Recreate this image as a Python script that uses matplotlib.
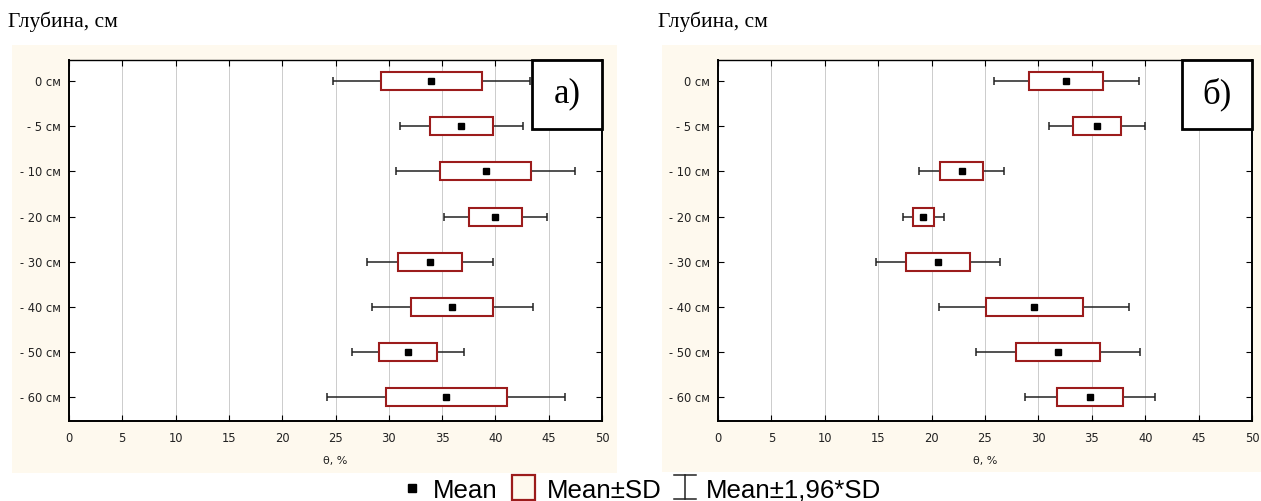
import numpy as np
import matplotlib
matplotlib.use('Agg')
import matplotlib.pyplot as plt
from matplotlib.patches import Rectangle
from matplotlib.lines import Line2D

# Данные: глубины и средние / стандартные отклонения влажности
depths = ['0 см', '- 5 см', '- 10 см', '- 20 см', '- 30 см', '- 40 см', '- 50 см', '- 60 см']

mean_a = [34.0, 36.8, 39.1, 40.0, 33.85, 35.95, 31.8, 35.4]
sd_a = [4.7, 2.95, 4.28, 2.48, 3.0, 3.86, 2.68, 5.7]

mean_b = [32.6, 35.5, 22.8, 19.2, 20.6, 29.6, 31.85, 34.8]
sd_b = [3.46, 2.28, 2.04, 0.98, 2.98, 4.53, 3.92, 3.1]

panel_labels = ['а)', 'б)']
xticks = [0, 5, 10, 15, 20, 25, 30, 35, 40, 45, 50]
legend_labels = ['Mean', 'Mean±SD', 'Mean±1,96*SD']

cream = '#fef9ee'
box_red = '#9c1c1c'

W, H = 1261, 501
fig = plt.figure(figsize=(W / 100, H / 100), dpi=100)
fig.patch.set_facecolor('white')


def fx(px):
    return px / W


def fy(py):
    return 1 - py / H


# кремовые подложки панелей
fig.patches.append(Rectangle((fx(12), fy(473)), (617 - 12) / W, (473 - 45) / H,
                             transform=fig.transFigure, fc=cream, ec='none', zorder=-2))
fig.patches.append(Rectangle((fx(662), fy(472)), (W - 662) / W, (472 - 45) / H,
                             transform=fig.transFigure, fc=cream, ec='none', zorder=-2))


def draw_panel(rect, means, sds, label):
    ax = fig.add_axes(rect)
    ax.set_facecolor('white')
    y = np.arange(len(depths))
    m = np.array(means)
    s = np.array(sds)
    # усы Mean±1,96*SD
    ax.errorbar(m, y, xerr=1.96 * s, fmt='none', ecolor='#222222', elinewidth=1.1,
                capsize=3, capthick=1.1, zorder=2)
    # прямоугольники Mean±SD
    for yi, mi, si in zip(y, m, s):
        ax.add_patch(Rectangle((mi - si, yi - 0.2), 2 * si, 0.4, fc='white',
                               ec=box_red, lw=1.5, zorder=3))
    ax.plot(m, y, 's', color='black', ms=4.8, zorder=4)

    ax.set_xlim(0, 50)
    ax.set_ylim(7.53, -0.47)
    ax.set_xticks(xticks)
    ax.set_yticks(y)
    ax.set_yticklabels(depths)
    ax.tick_params(direction='in', length=4, width=0.8, labelsize=8.3, pad=6,
                   top=True, right=True, labelcolor='#222222')
    ax.tick_params(axis='x', pad=8)
    ax.grid(axis='x', color='#cccccc', lw=0.7)
    ax.set_axisbelow(True)
    for side in ['left', 'bottom', 'right']:
        ax.spines[side].set_linewidth(1.4)
    ax.spines['top'].set_linewidth(1.0)
    ax.set_xlabel('θ, %', fontsize=8, labelpad=8, color='#222222')

    # рамка с подписью панели в правом верхнем углу
    ax.add_patch(Rectangle((0.869, 0.81), 0.131, 0.19, transform=ax.transAxes,
                           fc='white', ec='black', lw=2, zorder=6, clip_on=False))
    ax.text(0.9345, 0.905, label, transform=ax.transAxes, fontsize=25,
            family='Liberation Serif', ha='center', va='center', zorder=7)
    return ax


ax1 = draw_panel([fx(69), fy(421), (602 - 69) / W, (421 - 60) / H], mean_a, sd_a, panel_labels[0])
ax2 = draw_panel([fx(718), fy(421), (1252 - 718) / W, (421 - 60) / H], mean_b, sd_b, panel_labels[1])

for x in [8, 658]:
    fig.text(fx(x), fy(22), 'Глубина, см', family='Liberation Serif', fontsize=15.5,
             ha='left', va='center')

# легенда (рисуется вручную)
ly = 488
fig.add_artist(Line2D([fx(412)], [fy(ly)], marker='s', ls='none', color='black', ms=5.5,
                      transform=fig.transFigure))
fig.patches.append(Rectangle((fx(512), fy(500)), 23 / W, 25 / H, transform=fig.transFigure,
                             fc=cream, ec=box_red, lw=1.6))
wx = 685
for seg in [((wx - 11, wx + 11), (475, 475)), ((wx, wx), (475, 499)), ((wx - 11, wx + 11), (499, 499))]:
    fig.add_artist(Line2D([fx(v) for v in seg[0]], [fy(v) for v in seg[1]], color='#222222',
                          lw=1.1, transform=fig.transFigure))
for x, txt in zip([433, 547, 706], legend_labels):
    fig.text(fx(x), fy(ly), txt, family='Liberation Sans', fontsize=18.6, ha='left',
             va='center_baseline')

fig.savefig('out.png', dpi=100)
